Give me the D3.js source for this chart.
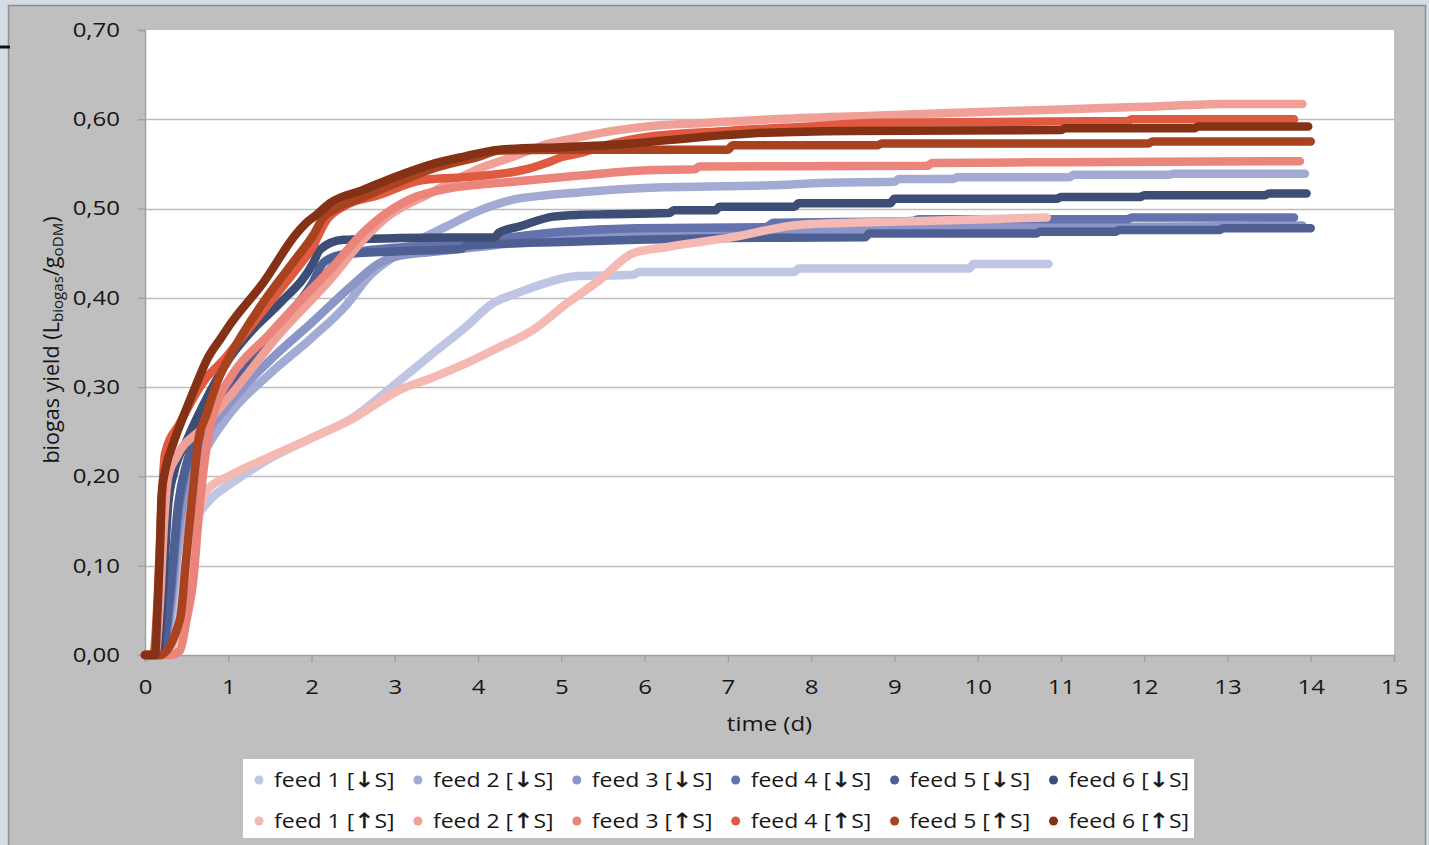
<!DOCTYPE html>
<html>
<head>
<meta charset="utf-8">
<script src="https://cdn.jsdelivr.net/npm/d3@7"></script>
<style>
  html, body { margin: 0; padding: 0; background: #d6dce5; }
  svg { display: block; }
  text { font-family: "Open Sans", "Noto Sans", sans-serif; fill: #161616; }
</style>
</head>
<body>
<svg id="chart" width="1429" height="845"></svg>
<script>
// Cumulative biogas yield, [day, L_biogas / g_oDM]
const feed1Down = [[0,0],[0.2,0],[0.3,0.02],[0.4,0.06],[0.5,0.11],[0.6,0.15],[0.7,0.165],[0.85,0.18],[1.0,0.19],[1.5,0.22],[2.0,0.243],[2.5,0.266],[3.0,0.303],[3.46,0.338],[3.86,0.368],[4.18,0.394],[4.46,0.405],[4.86,0.418],[5.14,0.424],[5.86,0.426],[5.94,0.429],[7.8,0.429],[7.85,0.433],[9.9,0.433],[9.95,0.438],[10.85,0.438]];
const feed2Down = [[0,0],[0.2,0],[0.3,0.04],[0.4,0.12],[0.5,0.18],[0.7,0.225],[1.0,0.268],[1.5,0.315],[2.0,0.355],[2.4,0.39],[2.7,0.425],[3.0,0.447],[3.22,0.461],[3.62,0.48],[4.02,0.498],[4.42,0.51],[4.82,0.515],[5.22,0.518],[5.62,0.521],[6.0,0.523],[7.5,0.526],[8.2,0.529],[9.0,0.53],[9.05,0.533],[9.7,0.533],[9.75,0.535],[11.1,0.535],[11.15,0.538],[12.3,0.538],[12.35,0.539],[13.93,0.539]];
const feed3Down = [[0,0],[0.2,0],[0.3,0.05],[0.4,0.14],[0.5,0.19],[0.7,0.24],[1.0,0.28],[1.5,0.33],[2.0,0.372],[2.5,0.415],[2.8,0.438],[3.0,0.446],[3.5,0.452],[4.0,0.457],[4.5,0.462],[5.0,0.466],[6.0,0.471],[7.2,0.472],[7.6,0.476],[9.3,0.478],[12.6,0.48],[13.9,0.481]];
const feed4Down = [[0,0],[0.2,0],[0.3,0.06],[0.4,0.16],[0.5,0.21],[0.7,0.25],[1.0,0.297],[1.5,0.352],[2.0,0.405],[2.3,0.44],[2.6,0.452],[3.0,0.456],[3.5,0.459],[4.0,0.463],[4.4,0.468],[5.0,0.474],[5.9,0.478],[7.45,0.479],[7.55,0.484],[9.2,0.486],[9.3,0.488],[11.8,0.488],[11.85,0.49],[13.8,0.49]];
const feed5Down = [[0,0],[0.2,0],[0.3,0.07],[0.4,0.17],[0.5,0.215],[0.7,0.255],[1.0,0.3],[1.5,0.358],[2.0,0.415],[2.15,0.44],[2.4,0.449],[3.0,0.452],[3.8,0.455],[3.85,0.458],[4.4,0.461],[5.2,0.463],[5.9,0.465],[7.0,0.467],[8.65,0.468],[8.7,0.472],[10.7,0.472],[10.75,0.474],[11.65,0.474],[11.7,0.476],[12.9,0.476],[12.95,0.478],[14.0,0.478]];
const feed6Down = [[0,0],[0.15,0],[0.22,0.08],[0.28,0.17],[0.35,0.205],[0.5,0.24],[0.7,0.28],[1.02,0.333],[1.3,0.365],[1.62,0.394],[2.02,0.439],[2.1,0.454],[2.38,0.465],[3.06,0.467],[4.2,0.468],[4.25,0.473],[4.5,0.48],[4.9,0.491],[5.22,0.493],[6.3,0.495],[6.35,0.498],[6.85,0.498],[6.9,0.502],[7.8,0.502],[7.85,0.506],[8.95,0.506],[9.0,0.511],[10.95,0.511],[11.0,0.513],[11.95,0.513],[12.0,0.515],[13.45,0.515],[13.5,0.517],[13.95,0.517]];

const feed1Up = [[0,0],[0.25,0],[0.4,0.03],[0.5,0.07],[0.6,0.13],[0.68,0.17],[0.75,0.185],[1.0,0.2],[1.5,0.222],[2.0,0.243],[2.5,0.265],[3.06,0.297],[3.46,0.311],[3.86,0.327],[4.26,0.345],[4.66,0.364],[5.07,0.394],[5.46,0.42],[5.86,0.45],[6.27,0.457],[7.06,0.468],[7.87,0.482],[8.47,0.484],[9.67,0.487],[10.83,0.49]];
const feed2Up = [[0,0],[0.12,0],[0.18,0.06],[0.23,0.15],[0.28,0.2],[0.38,0.222],[0.7,0.255],[1.02,0.29],[1.62,0.36],[2.22,0.42],[2.62,0.465],[2.9,0.49],[3.42,0.517],[4.02,0.545],[4.42,0.558],[4.82,0.572],[5.22,0.58],[5.62,0.587],[6.03,0.592],[6.75,0.596],[7.54,0.6],[8.75,0.604],[9.67,0.607],[11.0,0.611],[12.0,0.614],[13.0,0.617],[13.9,0.617]];
const feed3Up = [[0,0],[0.3,0],[0.42,0.005],[0.5,0.04],[0.58,0.084],[0.64,0.15],[0.7,0.205],[0.78,0.255],[0.9,0.29],[1.02,0.31],[1.5,0.36],[2.0,0.41],[2.22,0.431],[2.62,0.473],[2.9,0.495],[3.22,0.512],[3.62,0.522],[4.42,0.53],[5.22,0.537],[6.03,0.543],[6.6,0.544],[6.66,0.547],[9.4,0.548],[9.45,0.551],[11.0,0.552],[13.87,0.553]];
const feed4Up = [[0,0],[0.1,0],[0.15,0.06],[0.2,0.17],[0.24,0.225],[0.42,0.26],[0.74,0.311],[0.94,0.33],[1.2,0.36],[1.5,0.395],[1.8,0.43],[2.0,0.455],[2.18,0.487],[2.4,0.503],[2.8,0.515],[3.34,0.532],[3.82,0.535],[4.42,0.541],[4.62,0.545],[4.82,0.551],[5.02,0.558],[5.22,0.562],[5.5,0.57],[6.0,0.58],[7.0,0.587],[8.0,0.592],[8.8,0.596],[11.8,0.598],[11.85,0.6],[13.8,0.6]];
const feed5Up = [[0,0],[0.18,0],[0.42,0.04],[0.5,0.114],[0.58,0.188],[0.64,0.24],[0.74,0.27],[0.86,0.304],[1.02,0.335],[1.42,0.395],[1.82,0.445],[2.02,0.47],[2.14,0.49],[2.3,0.5],[2.6,0.512],[3.0,0.528],[3.5,0.546],[4.0,0.558],[4.26,0.565],[5.0,0.566],[7.0,0.566],[7.06,0.571],[8.8,0.571],[8.85,0.573],[12.05,0.573],[12.1,0.575],[14.0,0.575]];
const feed6Up = [[0,0],[0.12,0],[0.15,0.05],[0.18,0.12],[0.2,0.18],[0.25,0.21],[0.34,0.237],[0.46,0.267],[0.62,0.304],[0.74,0.33],[0.92,0.356],[1.02,0.37],[1.42,0.417],[1.82,0.472],[1.95,0.485],[2.06,0.493],[2.22,0.506],[2.62,0.521],[3.02,0.536],[3.42,0.549],[3.82,0.558],[4.26,0.566],[5.07,0.569],[5.86,0.573],[6.66,0.58],[7.47,0.585],[8.47,0.587],[11.0,0.588],[11.05,0.59],[12.6,0.59],[12.65,0.592],[13.97,0.592]];

const feedLabels = ["feed 1","feed 2","feed 3","feed 4","feed 5","feed 6"];
const arrowDown = "\u2193", arrowUp = "\u2191";
const seriesData = [feed1Down, feed2Down, feed3Down, feed4Down, feed5Down, feed6Down,
                    feed1Up, feed2Up, feed3Up, feed4Up, feed5Up, feed6Up];
const seriesColors = ["#bfc6e4","#a3aad3","#8c95c8","#6473ad","#4d5f93","#3c4d76",
                      "#f5b9b3","#f0a097","#eb847b","#e05a41","#a8421f","#843115"];

const xTicks = d3.range(0, 16, 1);
const yTicks = [0, 0.1, 0.2, 0.3, 0.4, 0.5, 0.6, 0.7];

const svg = d3.select("#chart");
const W = 1429, H = 845;
const plot = { left: 145, right: 1394, top: 30, bottom: 655 };
const SX = 1.2; // horizontal text stretch

// chart panel
svg.append("rect").attr("x", 8.5).attr("y", 5.5).attr("width", W - 12).attr("height", H)
  .attr("fill", "#bfbfbf").attr("stroke", "#8f8f8f").attr("stroke-width", 1.5);
svg.append("line").attr("x1", 0).attr("x2", 10).attr("y1", 47).attr("y2", 47)
  .attr("stroke", "#111").attr("stroke-width", 3);

// plot area
svg.append("rect").attr("x", plot.left).attr("y", plot.top)
  .attr("width", plot.right - plot.left).attr("height", plot.bottom - plot.top).attr("fill", "#ffffff");

const x = d3.scaleLinear().domain([0, 15]).range([plot.left, plot.right]);
const y = d3.scaleLinear().domain([0, 0.7]).range([plot.bottom, plot.top]);

// horizontal gridlines
svg.append("g").selectAll("line").data(yTicks.filter(v => v > 0 && v < 0.7)).join("line")
  .attr("x1", plot.left).attr("x2", plot.right)
  .attr("y1", d => Math.round(y(d)) + 0.5).attr("y2", d => Math.round(y(d)) + 0.5)
  .attr("stroke", "#bdbdbd").attr("stroke-width", 1.3);

// axes
const fmt = d => d3.format(".2f")(d).replace(".", ",");
const yAxis = svg.append("g").attr("transform", `translate(${plot.left},0)`)
  .call(d3.axisLeft(y).tickValues(yTicks).tickFormat(fmt).tickSize(7).tickPadding(18));
const xAxis = svg.append("g").attr("transform", `translate(0,${plot.bottom})`)
  .call(d3.axisBottom(x).tickValues(xTicks).tickFormat(d3.format("d")).tickSize(7).tickPadding(18));
[yAxis, xAxis].forEach(g => {
  g.select(".domain").attr("stroke", "#a0a0a0").attr("stroke-width", 1.5);
  g.selectAll(".tick line").attr("stroke", "#a0a0a0").attr("stroke-width", 1.3);
  g.selectAll(".tick text").attr("font-size", 20).attr("fill", "#161616")
    .style("font-family", '"Open Sans", sans-serif')
    .each(function() {
      const t = d3.select(this);
      t.attr("x", (+t.attr("x") || 0) / SX).attr("transform", `scale(${SX},1)`);
    });
});

// axis titles
svg.append("text").attr("transform", `translate(${(plot.left + plot.right) / 2},731) scale(${SX},1)`)
  .attr("text-anchor", "middle").attr("font-size", 20).text("time (d)");

const yTitle = svg.append("text")
  .attr("transform", "translate(59,340) rotate(-90) scale(1.08,1.08)")
  .attr("text-anchor", "middle").attr("font-size", 20);
yTitle.append("tspan").text("biogas yield (L");
yTitle.append("tspan").attr("font-size", 14).attr("baseline-shift", "-25%").text("biogas");
yTitle.append("tspan").text("/g");
yTitle.append("tspan").attr("font-size", 14).attr("baseline-shift", "-25%").text("oDM");
yTitle.append("tspan").text(")");

// series lines
const line = d3.line().x(d => x(d[0])).y(d => y(d[1])).curve(d3.curveMonotoneX);
svg.append("clipPath").attr("id", "plotclip").append("rect")
  .attr("x", plot.left - 10).attr("y", plot.top).attr("width", plot.right - plot.left + 20).attr("height", plot.bottom - plot.top + 10);
const lines = svg.append("g").attr("clip-path", "url(#plotclip)");
seriesData.forEach((data, i) => {
  lines.append("path").datum(data)
    .attr("d", line).attr("fill", "none")
    .attr("stroke", seriesColors[i]).attr("stroke-width", 8.5)
    .attr("stroke-linecap", "round").attr("stroke-linejoin", "round");
});

// legend
const legend = svg.append("g");
legend.append("rect").attr("x", 243).attr("y", 759).attr("width", 951).attr("height", 79).attr("fill", "#ffffff");
const colX = d3.range(6).map(k => 259 + k * 158.9);
seriesData.forEach((_, i) => {
  const cx = colX[i % 6], cy = i < 6 ? 780 : 821;
  legend.append("circle").attr("cx", cx).attr("cy", cy).attr("r", 4.5).attr("fill", seriesColors[i]);
  const t = legend.append("text").attr("transform", `translate(${cx + 15},${cy + 7}) scale(1.15,1)`)
    .attr("font-size", 20);
  t.append("tspan").text(feedLabels[i % 6] + " [");
  t.append("tspan").style("font-family", '"DejaVu Sans", sans-serif').attr("font-size", 21)
    .attr("stroke", "#161616").attr("stroke-width", 0.5)
    .text(i < 6 ? arrowDown : arrowUp);
  t.append("tspan").text("S]");
});
</script>
</body>
</html>
